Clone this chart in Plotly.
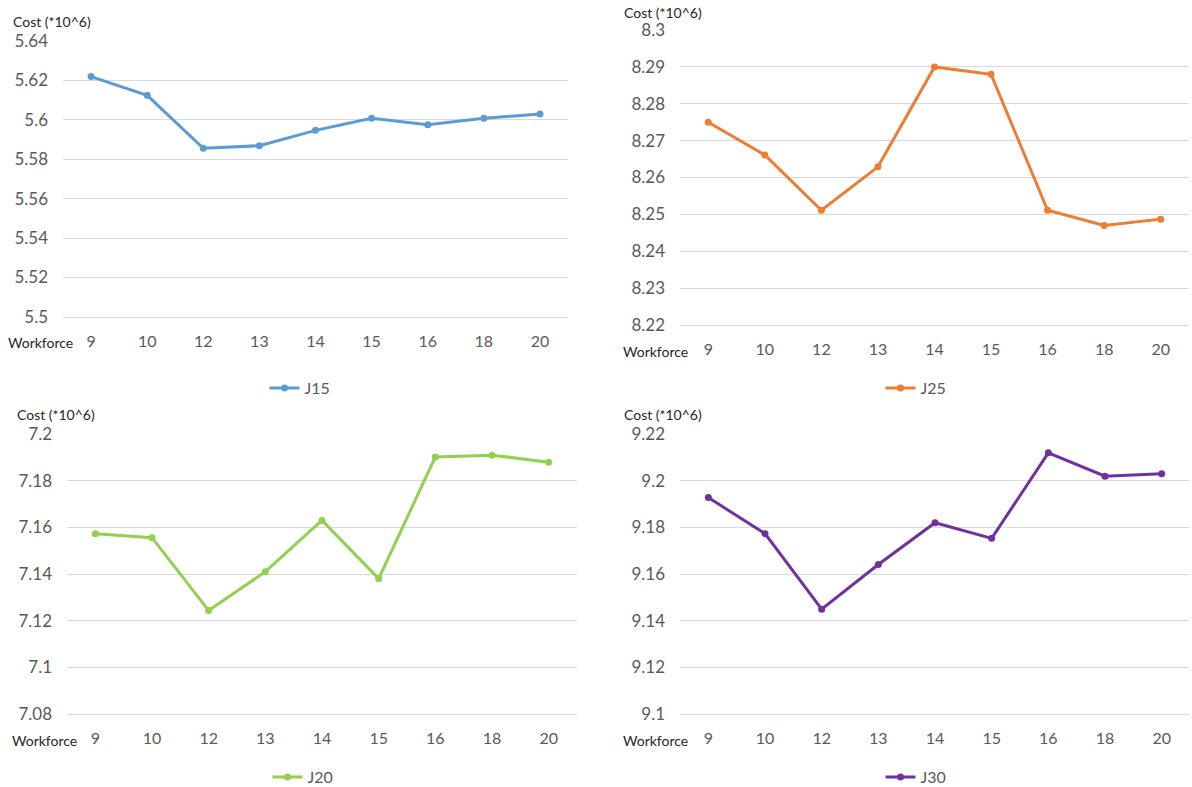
import plotly.graph_objects as go

# Workforce levels (category axis) and total cost (in millions) per instance
workforce = ["9", "10", "12", "13", "14", "15", "16", "18", "20"]

cost_j15 = [5.622, 5.6125, 5.5856, 5.5869, 5.5947, 5.6008, 5.5976, 5.6008, 5.6030]
cost_j25 = [8.275, 8.2661, 8.2511, 8.2629, 8.2900, 8.2880, 8.2511, 8.2470, 8.2487]
cost_j20 = [7.1573, 7.1556, 7.1243, 7.1410, 7.1630, 7.1380, 7.1902, 7.1910, 7.1880]
cost_j30 = [9.1928, 9.1773, 9.1449, 9.1641, 9.1820, 9.1753, 9.2120, 9.2020, 9.2030]

# y tick values per panel
ticks_j15 = [5.50, 5.52, 5.54, 5.56, 5.58, 5.60, 5.62, 5.64]
ticks_j25 = [8.22, 8.23, 8.24, 8.25, 8.26, 8.27, 8.28, 8.29, 8.30]
ticks_j20 = [7.08, 7.10, 7.12, 7.14, 7.16, 7.18, 7.20]
ticks_j30 = [9.10, 9.12, 9.14, 9.16, 9.18, 9.20, 9.22]

W, H = 1192, 787
FONT = "Lato, 'Open Sans', sans-serif"
GRID = "#D9D9D9"
TICK_COLOR = "#595959"


def px_x(v):
    return v / W


def px_y(v):
    return 1 - v / H


panels = [
    # name, values, ticks, color, x-domain px, y-domain px (top, bottom), legend centre px
    ("J15", cost_j15, ticks_j15, "#5B9BD5", (63, 568), (41, 317), (300, 388)),
    ("J25", cost_j25, ticks_j25, "#ED7D31", (680, 1189), (30, 325), (916, 388)),
    ("J20", cost_j20, ticks_j20, "#92D050", (67, 577), (434, 714), (303, 777)),
    ("J30", cost_j30, ticks_j30, "#7030A0", (680, 1190), (434, 714), (916, 777)),
]

fig = go.Figure()
annotations = []
layout = {}

for i, (name, vals, ticks, color, (x0, x1), (yt, yb), (lx, ly)) in enumerate(panels, start=1):
    suffix = "" if i == 1 else str(i)
    legend_name = "legend" if i == 1 else f"legend{i}"
    fig.add_trace(
        go.Scatter(
            x=workforce,
            y=vals,
            mode="lines+markers",
            name=name,
            showlegend=True,
            line=dict(color=color, width=3),
            marker=dict(color=color, size=7, symbol="circle"),
            xaxis=f"x{suffix}",
            yaxis=f"y{suffix}",
            legend=legend_name,
        )
    )
    step = ticks[1] - ticks[0]
    pad = step * 0.004
    layout[f"xaxis{suffix}"] = dict(
        domain=[px_x(x0), px_x(x1)],
        anchor=f"y{suffix}",
        type="category",
        range=[-0.5, len(workforce) - 0.5],
        showgrid=False,
        showline=True,
        linecolor=GRID,
        linewidth=1,
        ticks="",
        tickfont=dict(family=FONT, size=16, color=TICK_COLOR),
        ticklabelstandoff=10,
        automargin=False,
        fixedrange=True,
    )
    layout[f"yaxis{suffix}"] = dict(
        domain=[px_y(yb), px_y(yt)],
        anchor=f"x{suffix}",
        range=[ticks[0] - pad, ticks[-1] + pad],
        tickvals=ticks,
        ticktext=[f"{t:g}" for t in ticks],
        showgrid=True,
        gridcolor=GRID,
        gridwidth=1,
        zeroline=False,
        showline=False,
        ticks="",
        tickfont=dict(family=FONT, size=17, color=TICK_COLOR),
        ticklabelstandoff=14,
        automargin=False,
        fixedrange=True,
    )
    layout[legend_name] = dict(
        x=px_x(lx),
        y=px_y(ly),
        xanchor="center",
        yanchor="middle",
        orientation="h",
        bgcolor="rgba(0,0,0,0)",
        font=dict(family=FONT, size=16, color=TICK_COLOR),
        itemwidth=30,
    )
    # axis captions
    annotations.append(
        dict(
            text="Cost (*10^6)",
            xref="paper", yref="paper",
            x=px_x(x0 - 52 if i in (1, 3) else x0 - 58),
            y=px_y(yt - 20 if i != 2 else yt - 17),
            xanchor="left", yanchor="middle",
            showarrow=False,
            font=dict(family=FONT, size=14, color="#262626"),
        )
    )
    annotations.append(
        dict(
            text="Workforce",
            xref="paper", yref="paper",
            x=px_x(x0 + 12 if i in (1, 3) else x0 + 10),
            y=px_y(yb + 26),
            xanchor="right", yanchor="middle",
            showarrow=False,
            font=dict(family=FONT, size=14, color="#262626"),
        )
    )

fig.update_layout(
    width=W,
    height=H,
    margin=dict(l=0, r=0, t=0, b=0, autoexpand=False),
    paper_bgcolor="white",
    plot_bgcolor="white",
    showlegend=True,
    annotations=annotations,
    **layout,
)

fig.write_html("out.html", config={"displayModeBar": False})
